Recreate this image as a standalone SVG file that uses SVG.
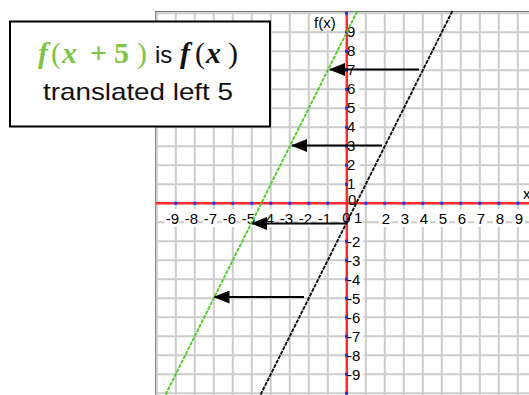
<svg xmlns="http://www.w3.org/2000/svg" width="529" height="395" viewBox="0 0 529 395">
<style>
.grid{stroke:#cdcdcd;stroke-width:2;fill:none}
.lbl{font-family:"Liberation Sans",Arial,sans-serif;font-size:15px;fill:#000}
.bg{fill:#fff}
.math{font-family:"Liberation Serif","DejaVu Serif",serif;font-size:30px;font-weight:bold}
.txt{font-family:"Liberation Sans",Arial,sans-serif;font-size:24px;fill:#111}
.arrow{stroke:#000;stroke-width:2;marker-end:url(#ah)}
</style>
<defs>
<marker id="ah" viewBox="0 0 16 13" refX="15" refY="6.5" markerWidth="16" markerHeight="13" markerUnits="userSpaceOnUse" orient="auto">
<path d="M0,0 L16,6.5 L0,13 z" fill="#000"/>
</marker>
</defs>
<rect width="529" height="395" fill="#fff"/>
<g id="graph">
<rect x="155.5" y="11.5" width="390" height="400" fill="#fff" stroke="#7a7a7a" stroke-width="1"/>
<path class="grid" d="M156.8,12V395M175.8,12V395M194.8,12V395M213.8,12V395M232.8,12V395M251.8,12V395M270.8,12V395M289.8,12V395M308.8,12V395M327.8,12V395M365.8,12V395M384.8,12V395M403.8,12V395M422.8,12V395M441.8,12V395M460.8,12V395M479.8,12V395M498.8,12V395M517.8,12V395
M156,13.3H529M156,32.3H529M156,51.3H529M156,70.3H529M156,89.3H529M156,108.3H529M156,127.3H529M156,146.3H529M156,165.3H529M156,184.3H529M156,222.3H529M156,241.3H529M156,260.3H529M156,279.3H529M156,298.3H529M156,317.3H529M156,336.3H529M156,355.3H529M156,374.3H529M156,393.3H529"/>
<g class="bg">
<rect x="165" y="209" width="14" height="18"/><rect x="184" y="209" width="14" height="18"/><rect x="203" y="209" width="14" height="18"/><rect x="222" y="209" width="14" height="18"/><rect x="241" y="209" width="14" height="18"/><rect x="260" y="209" width="14" height="18"/><rect x="279" y="209" width="14" height="18"/><rect x="298" y="209" width="14" height="18"/><rect x="317" y="209" width="14" height="18"/><rect x="339" y="207" width="24" height="20"/>
<rect x="379" y="209" width="13" height="18"/><rect x="398" y="209" width="13" height="18"/><rect x="417" y="209" width="13" height="18"/><rect x="436" y="209" width="13" height="18"/><rect x="455" y="209" width="13" height="18"/><rect x="474" y="209" width="13" height="18"/><rect x="493" y="209" width="13" height="18"/><rect x="512" y="209" width="13" height="18"/>
<rect x="313" y="14" width="33" height="16"/>
<rect x="348.5" y="24" width="11" height="15"/><rect x="348.5" y="43" width="11" height="15"/><rect x="348.5" y="62" width="11" height="15"/><rect x="348.5" y="81" width="11" height="15"/><rect x="348.5" y="100" width="11" height="15"/><rect x="348.5" y="119" width="11" height="15"/><rect x="348.5" y="138" width="11" height="15"/><rect x="348.5" y="157" width="11" height="15"/><rect x="348.5" y="176" width="11" height="15"/><rect x="348.5" y="193" width="9" height="9"/>
<rect x="348.5" y="234" width="15" height="15"/><rect x="348.5" y="253" width="15" height="15"/><rect x="348.5" y="272" width="15" height="15"/><rect x="348.5" y="291" width="15" height="15"/><rect x="348.5" y="310" width="15" height="15"/><rect x="348.5" y="329" width="15" height="15"/><rect x="348.5" y="348" width="15" height="15"/><rect x="348.5" y="367" width="15" height="15"/>
</g>
<line x1="346.8" y1="12" x2="346.8" y2="395" stroke="#ff2a2a" stroke-width="2.5"/>
<line x1="156" y1="203.3" x2="529" y2="203.3" stroke="#ff2a2a" stroke-width="2.5"/>
<path stroke="#2233ee" stroke-width="3" fill="none" d="M175.8,201.8v3M194.8,201.8v3M213.8,201.8v3M232.8,201.8v3M251.8,201.8v3M270.8,201.8v3M289.8,201.8v3M308.8,201.8v3M327.8,201.8v3M365.8,201.8v3M384.8,201.8v3M403.8,201.8v3M422.8,201.8v3M441.8,201.8v3M460.8,201.8v3M479.8,201.8v3M498.8,201.8v3M517.8,201.8v3
M345,13.3h3M345,32.3h3M345,51.3h3M345,70.3h3M345,89.3h3M345,108.3h3M345,127.3h3M345,146.3h3M345,165.3h3M345,184.3h3M345,222.3h3M345,241.3h3M345,260.3h3M345,279.3h3M345,298.3h3M345,317.3h3M345,336.3h3M345,355.3h3M345,374.3h3M345,393.3h3"/>
<g class="lbl" text-anchor="end">
<text x="179" y="223.5">-9</text><text x="198" y="223.5">-8</text><text x="217" y="223.5">-7</text><text x="236" y="223.5">-6</text><text x="255" y="223.5">-5</text><text x="274" y="223.5">-4</text><text x="293" y="223.5">-3</text><text x="312" y="223.5">-2</text><text x="331" y="223.5">-1</text>
</g>
<g class="lbl" text-anchor="middle">
<text x="346.5" y="222.5">0</text>
<text x="386" y="223.5">2</text><text x="405" y="223.5">3</text><text x="424" y="223.5">4</text><text x="443" y="223.5">5</text><text x="462" y="223.5">6</text><text x="481" y="223.5">7</text><text x="500" y="223.5">8</text><text x="519" y="223.5">9</text>
</g>
<g class="lbl">
<text x="314" y="28">f(x)</text>
<text x="523" y="199">x</text>
<text x="347" y="37">9</text><text x="347" y="56">8</text><text x="347" y="75">7</text><text x="347" y="94">6</text><text x="347" y="113">5</text><text x="347" y="132">4</text><text x="347" y="151">3</text><text x="347" y="170">2</text><text x="347" y="189">1</text><text x="348" y="205">0</text>
<text x="354" y="222.5">1</text>
<text x="347" y="246.5">-2</text><text x="347" y="265.5">-3</text><text x="347" y="284.5">-4</text><text x="347" y="303.5">-5</text><text x="347" y="322.5">-6</text><text x="347" y="341.5">-7</text><text x="347" y="360.5">-8</text><text x="347" y="379.5">-9</text>
</g>
</g>
<g id="line-fx">
<line x1="452.4" y1="11" x2="260.4" y2="395" stroke="#111" stroke-width="1.9" stroke-dasharray="4 1"/>
</g>
<g id="line-fx5">
<line x1="357.4" y1="11" x2="165.4" y2="395" stroke="#55cc2e" stroke-width="1.9" stroke-dasharray="4 1"/>
</g>
<g id="connectors">
<line class="arrow" x1="419" y1="69.5" x2="330" y2="69.5"/>
<line class="arrow" x1="382" y1="145.5" x2="292" y2="145.5"/>
<line class="arrow" x1="345" y1="223.5" x2="252" y2="223.5"/>
<line class="arrow" x1="304" y1="297" x2="214.5" y2="297"/>
</g>
<g id="label-box">
<rect x="10" y="21.5" width="260" height="105" fill="#fff" stroke="#000" stroke-width="2"/>
<text class="math" y="63" fill="#7fc447"><tspan x="38" font-style="italic">f</tspan><tspan x="51" font-weight="normal">(</tspan><tspan x="62" font-style="italic">x</tspan><tspan x="90">+</tspan><tspan x="114">5</tspan><tspan x="137" font-weight="normal">)</tspan></text>
<text class="txt" x="155" y="63">is</text>
<text class="math" y="63" fill="#111"><tspan x="180" font-style="italic">f</tspan><tspan x="195" font-weight="normal">(</tspan><tspan x="206" font-style="italic">x</tspan><tspan x="228" font-weight="normal">)</tspan></text>
<text class="txt" x="43" y="100" textLength="190" lengthAdjust="spacingAndGlyphs">translated left 5</text>
</g>
</svg>
